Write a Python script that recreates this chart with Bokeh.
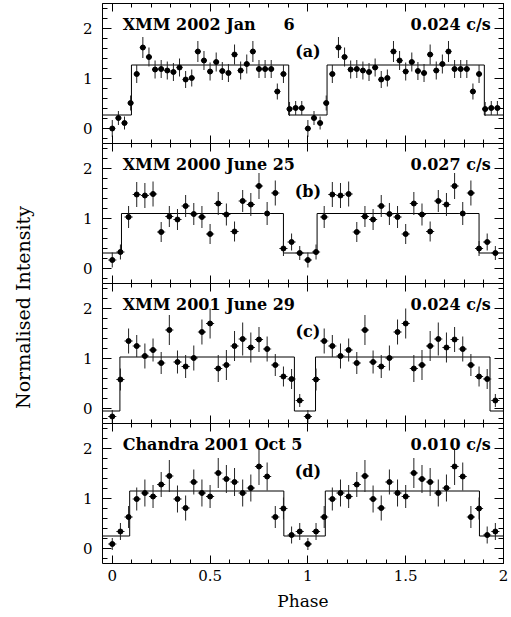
import numpy as np
from bokeh.plotting import figure
from bokeh.layouts import column, row
from bokeh.models import LinearAxis, FixedTicker, Range1d, Label, ColumnDataSource
from bokeh.embed import file_html
from bokeh.resources import INLINE

# Folded light curves (one cycle; drawn twice over phase 0-2)
a_rate = [0.00, 0.21, 0.11, 0.51, 1.09, 1.62, 1.43, 1.18, 1.19, 1.16, 1.13, 1.22,
          0.98, 1.01, 1.54, 1.36, 1.14, 1.33, 1.15, 1.11, 1.48, 1.16, 1.29, 1.54,
          1.19, 1.19, 1.19, 0.74, 1.09, 0.39, 0.41, 0.41]
a_err = [0.17, 0.14, 0.13, 0.15, 0.18, 0.21, 0.19, 0.18, 0.18, 0.18, 0.18, 0.18,
         0.17, 0.17, 0.21, 0.19, 0.18, 0.19, 0.18, 0.18, 0.20, 0.18, 0.19, 0.21,
         0.18, 0.18, 0.18, 0.16, 0.18, 0.14, 0.14, 0.14]

b_rate = [0.17, 0.33, 1.03, 1.48, 1.46, 1.49, 0.73, 1.04, 0.98, 1.25, 1.09, 1.03,
          0.69, 1.30, 1.08, 0.74, 1.35, 1.28, 1.65, 1.10, 1.51, 0.40, 0.53, 0.31]
b_err = [0.15, 0.15, 0.22, 0.25, 0.25, 0.25, 0.20, 0.21, 0.21, 0.22, 0.22, 0.22,
         0.20, 0.23, 0.22, 0.20, 0.22, 0.23, 0.26, 0.23, 0.25, 0.15, 0.17, 0.14]

c_rate = [-0.16, 0.58, 1.35, 1.25, 1.05, 1.17, 0.91, 1.57, 0.93, 0.84, 1.01, 1.53,
          1.70, 0.80, 0.87, 1.25, 1.39, 1.22, 1.38, 1.19, 0.87, 0.64, 0.59, 0.16]
c_err = [0.13, 0.22, 0.25, 0.22, 0.25, 0.23, 0.22, 0.30, 0.23, 0.23, 0.25, 0.25,
         0.30, 0.27, 0.30, 0.30, 0.33, 0.30, 0.25, 0.25, 0.22, 0.20, 0.20, 0.13]

d_rate = [0.09, 0.34, 0.63, 0.99, 1.11, 1.04, 1.28, 1.45, 0.99, 0.81, 1.33, 1.11,
          1.04, 1.51, 1.39, 1.33, 1.11, 1.21, 1.64, 1.44, 0.63, 0.80, 0.27, 0.34]
d_err = [0.12, 0.17, 0.22, 0.23, 0.27, 0.23, 0.25, 0.32, 0.27, 0.25, 0.25, 0.27,
         0.23, 0.30, 0.28, 0.28, 0.27, 0.27, 0.37, 0.28, 0.22, 0.22, 0.17, 0.17]

# Two-level eclipse model: (low level, high level, egress phase, ingress phase)
a_model = (0.27, 1.27, 0.098, 0.902)
b_model = (0.31, 1.10, 0.047, 0.875)
c_model = (-0.05, 1.03, 0.039, 0.931)
d_model = (0.25, 1.15, 0.089, 0.877)

a_labels = ("XMM 2002 Jan" + "\u00a0" * 5 + "6", "0.024 c/s", "(a)")
b_labels = ("XMM 2000 June 25", "0.027 c/s", "(b)")
c_labels = ("XMM 2001 June 29", "0.024 c/s", "(c)")
d_labels = ("Chandra 2001 Oct 5", "0.010 c/s", "(d)")

x_ticks = [0, 0.5, 1, 1.5, 2]
x_tick_labels = ["0", "0.5", "1", "1.5", "2"]
y_ticks = [0, 1, 2]
y_tick_labels = ["0", "1", "2"]

X0, X1 = -0.05, 2.0
Y0, Y1 = -0.3, 2.5
TICK_FONT = "DejaVu Serif"
TITLE_FONT = "DejaVu Serif"
LABEL_FONT = "DejaVu Serif"

x_minor = list(np.round(np.arange(0, 2.01, 0.1), 2))
y_minor = list(np.round(np.arange(-0.2, 2.41, 0.2), 2))


def inward(ax, major, minor):
    ax.axis_line_color = "black"
    ax.axis_line_width = 1
    ax.major_tick_in = major
    ax.major_tick_out = 0
    ax.minor_tick_in = minor
    ax.minor_tick_out = 0
    ax.major_tick_line_color = "black"
    ax.minor_tick_line_color = "black"


def tick_only_axes(p, loc, majors, minors, major_len, minor_len):
    # frame edge with inward ticks and no tick labels
    for positions, length in ((majors, major_len), (minors, minor_len)):
        ax = LinearAxis(ticker=FixedTicker(ticks=[], minor_ticks=positions))
        inward(ax, 0, length)
        ax.major_label_standoff = 0
        p.add_layout(ax, loc)


def make_panel(rate, err, model, labels, height, top, bottom, show_x):
    p = figure(width=471, height=height, x_range=Range1d(X0, X1), y_range=Range1d(Y0, Y1),
               output_backend="svg", toolbar_location=None,
               x_axis_location=None, y_axis_location=None,
               min_border_left=62, min_border_right=8,
               min_border_top=top, min_border_bottom=bottom)
    p.outline_line_color = None
    p.grid.visible = False
    p.background_fill_color = "white"
    p.border_fill_color = "white"

    # left axis with labels
    ay = LinearAxis(ticker=FixedTicker(ticks=y_ticks, minor_ticks=y_minor))
    inward(ay, 9, 5)
    ay.major_label_overrides = dict(zip(y_ticks, y_tick_labels))
    ay.major_label_text_font = TICK_FONT
    ay.major_label_text_font_size = "15px"
    ay.major_label_text_color = "black"
    ay.major_label_standoff = 10
    p.add_layout(ay, "left")
    tick_only_axes(p, "right", y_ticks, y_minor, 9, 5)

    tick_only_axes(p, "above", x_ticks, x_minor, 8, 4)
    if show_x:
        ax = LinearAxis(ticker=FixedTicker(ticks=x_ticks, minor_ticks=x_minor))
        inward(ax, 8, 4)
        ax.major_label_overrides = dict(zip(x_ticks, x_tick_labels))
        ax.major_label_text_font = TICK_FONT
        ax.major_label_text_font_size = "15px"
        ax.major_label_text_color = "black"
        ax.major_label_standoff = 6
        ax.axis_label = "Phase"
        ax.axis_label_text_font = LABEL_FONT
        ax.axis_label_text_font_size = "17px"
        ax.axis_label_text_font_style = "normal"
        ax.axis_label_text_color = "black"
        ax.axis_label_standoff = 7
        p.add_layout(ax, "below")
    else:
        tick_only_axes(p, "below", x_ticks, x_minor, 8, 4)

    n = len(rate)
    base = np.arange(n) / n
    phase = np.concatenate([base, base + 1])
    r = np.array(rate * 2)
    e = np.array(err * 2)
    half = 0.5 / n
    src = ColumnDataSource(dict(x=phase, y=r, lo=r - e, hi=r + e,
                                xl=phase - half, xr=phase + half))

    # eclipse model drawn as a step profile
    lo, hi, t_up, t_dn = model
    mx = [X0, t_up, t_up, t_dn, t_dn, 1 + t_up, 1 + t_up, 1 + t_dn, 1 + t_dn, X1]
    my = [lo, lo, hi, hi, lo, lo, hi, hi, lo, lo]
    p.line(mx, my, line_color="black", line_width=1)

    p.segment(x0="x", y0="lo", x1="x", y1="hi", source=src, line_color="#222222", line_width=1)
    p.segment(x0="xl", y0="y", x1="xr", y1="y", source=src, line_color="#222222", line_width=1)
    p.scatter(x="x", y="y", source=src, marker="circle", size=5,
              fill_color="black", line_color="black")

    left_t, right_t, tag = labels
    common = dict(text_baseline="middle", text_font=TITLE_FONT, text_font_size="16px",
                  text_font_style="bold", text_color="black")
    p.add_layout(Label(x=0.053, y=2.09, text=left_t, text_align="left", **common))
    p.add_layout(Label(x=1.935, y=2.09, text=right_t, text_align="right", **common))
    p.add_layout(Label(x=1.0, y=1.55, text=tag, text_align="center", **common))
    return p


pa = make_panel(a_rate, a_err, a_model, a_labels, 143, 3, 0, False)
pb = make_panel(b_rate, b_err, b_model, b_labels, 140, 0, 0, False)
pc = make_panel(c_rate, c_err, c_model, c_labels, 140, 0, 0, False)
pd = make_panel(d_rate, d_err, d_model, d_labels, 194, 0, 54, True)

# shared y-axis title in its own narrow strip
side = figure(width=40, height=617, output_backend="svg", toolbar_location=None,
              x_axis_location=None, y_axis_location=None, min_border=0,
              x_range=Range1d(0, 1), y_range=Range1d(0, 1))
side.outline_line_color = None
side.grid.visible = False
side.add_layout(Label(x=22, y=617 - 307, x_units="screen", y_units="screen",
                      text="Normalised Intensity", angle=np.pi / 2,
                      text_align="center", text_baseline="middle",
                      text_font=LABEL_FONT, text_font_size="19px", text_color="black"))

layout = row(side, column(pa, pb, pc, pd, spacing=0), spacing=0)

open("out.html", "w").write(file_html(layout, INLINE))
